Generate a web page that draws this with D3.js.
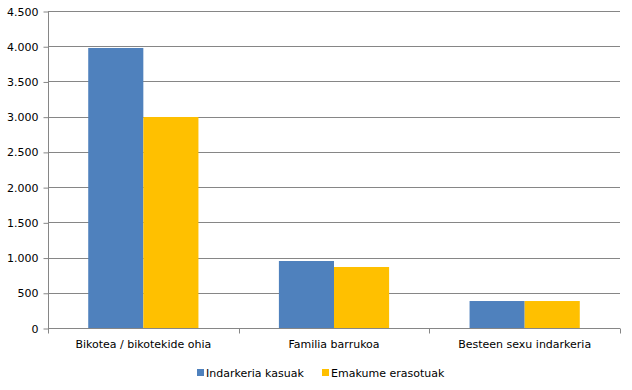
<!DOCTYPE html>
<html>
<head>
<script src="https://d3js.org/d3.v7.min.js"></script>
<style>
  body { margin: 0; background: #fff; }
  text { font-family: "DejaVu Sans", Verdana, sans-serif; font-size: 11px; fill: #000; }
</style>
</head>
<body>
<svg width="632" height="390"></svg>
<script>

var categories = ["Bikotea / bikotekide ohia", "Familia barrukoa", "Besteen sexu indarkeria"];
var seriesNames = ["Indarkeria kasuak", "Emakume erasotuak"];
var kasuak = [3975, 951, 383];
var erasotuak = [2995, 866, 383];
var yTicks = [0, 500, 1000, 1500, 2000, 2500, 3000, 3500, 4000, 4500];
var colors = ["#4f81bd", "#ffc000"];

var svg = d3.select("svg");
var pLeft = 48, pRight = 620, pTop = 11, pBottom = 328;

var x = d3.scaleBand()
  .domain(categories)
  .range([pLeft, pRight]);

var x1 = d3.scaleBand()
  .domain(seriesNames)
  .range([0, x.bandwidth()])
  .paddingInner(0)
  .paddingOuter(0.73);

var y = d3.scaleLinear()
  .domain([0, 4500])
  .range([pBottom, pTop]);

// grid lines
svg.append("g").selectAll("line")
  .data(yTicks.slice(1))
  .enter().append("line")
  .attr("x1", pLeft).attr("x2", pRight)
  .attr("y1", function(d) { return Math.round(y(d)) + 0.5; })
  .attr("y2", function(d) { return Math.round(y(d)) + 0.5; })
  .attr("stroke", "#868686");

// bars
var rows = categories.map(function(c, i) { return [kasuak[i], erasotuak[i]]; });
svg.append("g").selectAll("g")
  .data(rows)
  .enter().append("g")
  .attr("transform", function(d, i) { return "translate(" + x(categories[i]) + ",0)"; })
  .selectAll("rect")
  .data(function(d) { return d; })
  .enter().append("rect")
  .attr("x", function(d, j) { return x1(seriesNames[j]); })
  .attr("width", x1.bandwidth())
  .attr("y", function(d) { return y(d); })
  .attr("height", function(d) { return pBottom - y(d); })
  .attr("fill", function(d, j) { return colors[j]; });

// y axis
var yAxis = d3.axisLeft(y).tickValues(yTicks).tickSize(5).tickPadding(5)
  .tickFormat(function(d) { return d3.format(",")(d).replace(/,/g, "."); });
var ya = svg.append("g")
  .attr("transform", "translate(" + (pLeft + 0.5) + ",0.5)")
  .call(yAxis);
ya.select(".domain").attr("stroke", "#868686").attr("d", "M0," + pTop + "V" + pBottom);
ya.selectAll(".tick line").attr("stroke", "#868686");
ya.selectAll("text").style("font-size", "11px").style("font-family", "'DejaVu Sans', Verdana, sans-serif").attr("fill", "#000");

// x axis
var xAxis = d3.axisBottom(x).tickSize(0).tickPadding(12);
var xa = svg.append("g")
  .attr("transform", "translate(0," + (pBottom + 0.5) + ")")
  .call(xAxis);
xa.select(".domain").attr("stroke", "#868686").attr("d", "M" + pLeft + ",0H" + pRight);
xa.selectAll("text").style("font-size", "11px").style("font-family", "'DejaVu Sans', Verdana, sans-serif").attr("fill", "#000");
var sep = [pLeft, pLeft + x.bandwidth(), pLeft + 2 * x.bandwidth(), pRight];
xa.selectAll(".sep").data(sep).enter().append("line")
  .attr("x1", function(d) { return Math.round(d) + 0.5; })
  .attr("x2", function(d) { return Math.round(d) + 0.5; })
  .attr("y1", 0).attr("y2", 5)
  .attr("stroke", "#868686");

// legend
var legend = svg.append("g").attr("transform", "translate(197,369)");
var lx = [0, 125];
seriesNames.forEach(function(name, i) {
  legend.append("rect")
    .attr("x", lx[i]).attr("y", 0)
    .attr("width", 7).attr("height", 7)
    .attr("fill", colors[i]);
  legend.append("text")
    .attr("x", lx[i] + 9).attr("y", 8)
    .text(name);
});
</script>
</body>
</html>
